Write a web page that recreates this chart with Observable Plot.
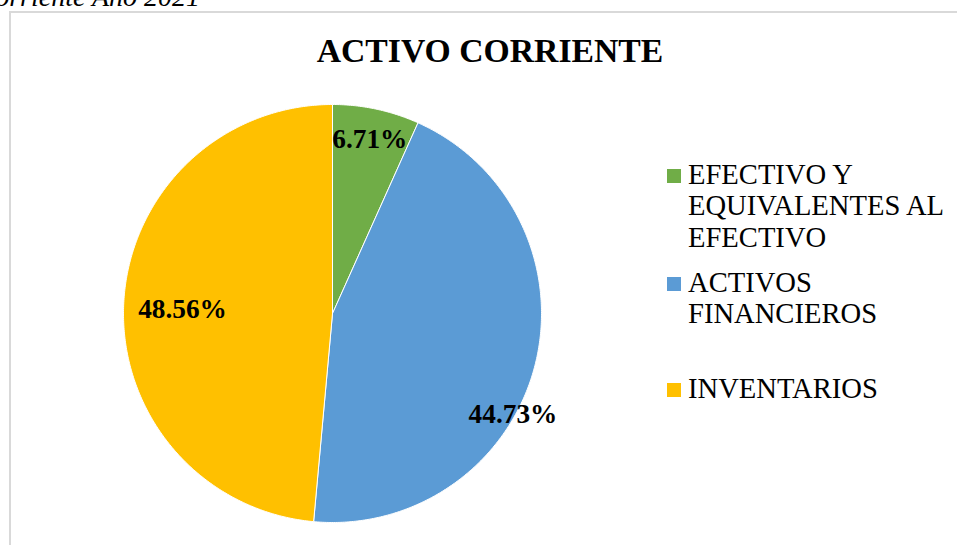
<!DOCTYPE html>
<html>
<head>
<meta charset="utf-8">
<script src="https://cdn.jsdelivr.net/npm/d3@7"></script>
<script src="https://cdn.jsdelivr.net/npm/@observablehq/plot@0.6"></script>
<style>
  html, body { margin: 0; padding: 0; background: #fff; overflow: hidden; }
  #wrap { position: relative; width: 957px; height: 545px; overflow: hidden; font-family: "Liberation Serif", "Times New Roman", serif; color: #000; }
  #chart { position: absolute; left: 0; top: 0; }
  .frame { position: absolute; left: 9px; top: 11px; width: 1000px; height: 600px; border-left: 2px solid #d9d9d9; border-top: 2px solid #d9d9d9; }
  .caption { position: absolute; right: 757px; top: -17px; font-size: 28px; line-height: 28px; font-style: italic; white-space: nowrap; }
  .title { position: absolute; left: 240px; width: 500px; top: 33.8px; text-align: center; font-size: 33.7px; line-height: 33.7px; font-weight: bold; white-space: nowrap; }
  .leg { position: absolute; left: 688px; width: 268px; font-size: 28.6px; line-height: 31.5px; }
  .sw { position: absolute; left: 667px; width: 14px; height: 14px; }
</style>
</head>
<body>
<div id="wrap">
  <div class="frame"></div>
  <div class="caption">Activo Corriente Año 2021</div>
  <div class="title">ACTIVO CORRIENTE</div>
  <div id="chart"></div>
</div>
<script>
const categories = ["EFECTIVO Y EQUIVALENTES AL EFECTIVO", "ACTIVOS FINANCIEROS", "INVENTARIOS"];
const values = [6.71, 44.73, 48.56];
const colors = ["#70ad47", "#5b9bd5", "#ffc000"];

// label placement (layout): radius fraction and angle offset in degrees from slice middle
const labelRadius = [0.854, 0.988, 0.718];
const labelAngleOffset = [0, 14.4, -0.83];

const total = d3.sum(values);
const slices = [];
let cum = 0;
values.forEach((v, i) => {
  const a0 = cum / total * 2 * Math.PI;
  cum += v;
  const a1 = cum / total * 2 * Math.PI;
  slices.push({cat: categories[i], value: v, a0, a1, i});
});

const polyPoints = [];
for (const s of slices) {
  polyPoints.push({cat: s.cat, x: 0, y: 0});
  const n = Math.max(2, Math.ceil((s.a1 - s.a0) / (Math.PI / 360)));
  for (let k = 0; k <= n; k++) {
    const a = s.a0 + (s.a1 - s.a0) * k / n;
    polyPoints.push({cat: s.cat, x: Math.sin(a), y: Math.cos(a)});
  }
  polyPoints.push({cat: s.cat, x: 0, y: 0});
}

const labels = slices.map(s => {
  const a = (s.a0 + s.a1) / 2 + labelAngleOffset[s.i] * Math.PI / 180;
  const r = labelRadius[s.i];
  return {x: r * Math.sin(a), y: r * Math.cos(a), text: s.value.toFixed(2) + "%"};
});

const plot = Plot.plot({
  width: 957,
  height: 545,
  margin: 0,
  style: {background: "transparent"},
  x: {domain: [-1, 1], range: [123, 541], axis: null},
  y: {domain: [-1, 1], range: [522, 104], axis: null},
  color: {domain: categories, range: colors},
  marks: [
    Plot.line(polyPoints, {x: "x", y: "y", z: "cat", fill: "cat", stroke: "#ffffff", strokeWidth: 1, curve: "linear"}),
    Plot.text(labels, {x: "x", y: "y", text: "text", fill: "#000", fontSize: 27.3, fontWeight: "bold", fontFamily: "Liberation Serif"})
  ]
});
document.getElementById("chart").appendChild(plot);

// legend
const wrap = document.getElementById("wrap");
const legTops = [158.6, 266.6, 372.6];
categories.forEach((c, i) => {
  const sw = document.createElement("div");
  sw.className = "sw";
  sw.style.top = (legTops[i] + 10.5) + "px";
  sw.style.background = colors[i];
  wrap.appendChild(sw);
  const t = document.createElement("div");
  t.className = "leg";
  t.style.top = legTops[i] + "px";
  t.textContent = c;
  wrap.appendChild(t);
});
</script>
</body>
</html>
